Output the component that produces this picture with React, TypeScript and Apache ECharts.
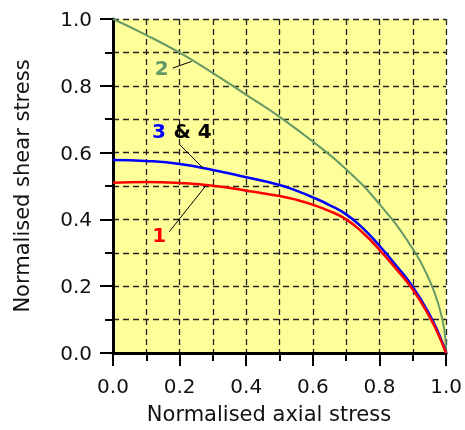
import React, { useEffect, useRef } from "react";
import * as echarts from "echarts";

// Curve 2 (green)
const curve2X = [0, 0.1, 0.2, 0.3, 0.4, 0.5, 0.6, 0.7, 0.8, 0.9, 0.95, 0.98, 0.995, 1];
const curve2Y = [1.0, 0.952, 0.899, 0.838, 0.773, 0.707, 0.633, 0.55, 0.446, 0.312, 0.218, 0.135, 0.068, 0];

// Curves 3 & 4 (blue) and 1 (red)
const curveX = [0, 0.1, 0.2, 0.3, 0.4, 0.5, 0.55, 0.6, 0.65, 0.7, 0.75, 0.8, 0.85, 0.9, 0.95, 0.98, 1];
const curve34Y = [0.578, 0.575, 0.566, 0.548, 0.526, 0.503, 0.486, 0.466, 0.443, 0.415, 0.374, 0.321, 0.262, 0.198, 0.116, 0.053, 0];
const curve1Y = [0.51, 0.512, 0.509, 0.501, 0.486, 0.47, 0.459, 0.444, 0.425, 0.4, 0.36, 0.309, 0.252, 0.19, 0.109, 0.048, 0];

const tickLabels = ["0.0", "0.2", "0.4", "0.6", "0.8", "1.0"];

const xTitle = "Normalised axial stress";
const yTitle = "Normalised shear stress";

const GREEN = "#669966";
const FONT = "DejaVu Sans";

const pairs = (xs: number[], ys: number[]) => xs.map((x, i) => [x, ys[i]]);

const labelFmt = (v: number) => tickLabels[Math.round(v / 0.2)] ?? "";

function axis(extra: any) {
  const grid = { show: true, lineStyle: { color: "#222", width: 1.3, type: [6, 4] } };
  return {
    type: "value",
    min: 0,
    max: 1,
    interval: 0.2,
    axisLine: { show: true, onZero: false, lineStyle: { color: "#000", width: 3 } },
    axisTick: { show: true, length: 13, lineStyle: { color: "#000", width: 2 } },
    minorTick: { show: true, splitNumber: 2, length: 8, lineStyle: { color: "#000", width: 2 } },
    splitLine: grid,
    minorSplitLine: grid,
    axisLabel: { fontSize: 20, fontFamily: FONT, color: "#111", formatter: labelFmt, ...extra },
  };
}

export default function App() {
  const ref = useRef<HTMLDivElement>(null);
  useEffect(() => {
    const chart = echarts.init(ref.current!, null, { renderer: "svg" });
    chart.setOption({
      animation: false,
      grid: {
        left: 113,
        top: 19,
        right: 18,
        bottom: 77,
        show: true,
        backgroundColor: "#ffff99",
        borderWidth: 0,
      },
      xAxis: axis({ margin: 23 }),
      yAxis: axis({ margin: 21 }),
      series: [
        {
          type: "line",
          data: pairs(curve2X, curve2Y),
          showSymbol: false,
          smooth: 0.5,
          lineStyle: { color: GREEN, width: 2 },
        },
        {
          type: "line",
          data: pairs(curveX, curve34Y),
          showSymbol: false,
          smooth: 0.5,
          lineStyle: { color: "#0000ff", width: 2.5 },
        },
        {
          type: "line",
          data: pairs(curveX, curve1Y),
          showSymbol: false,
          smooth: 0.5,
          lineStyle: { color: "#ff0000", width: 2.5 },
        },
      ],
    });

    const p = (x: number, y: number) => chart.convertToPixel({ gridIndex: 0 }, [x, y]) as number[];
    const bold = { fontSize: 20, fontWeight: "bold", fontFamily: FONT, align: "center", verticalAlign: "middle" };
    const label = (text: string, x: number, y: number, fill: string) => {
      const [px, py] = p(x, y);
      return { type: "text", x: px, y: py, z: 10, style: { text, fill, ...bold } };
    };
    const leader = (x1: number, y1: number, x2: number, y2: number) => {
      const [a, b] = p(x1, y1);
      const [c, d] = p(x2, y2);
      return { type: "line", z: 10, shape: { x1: a, y1: b, x2: c, y2: d }, style: { stroke: "#000", lineWidth: 1 } };
    };
    const h = chart.getHeight();
    chart.setOption({
      graphic: [
        label("2", 0.146, 0.853, GREEN),
        leader(0.179, 0.853, 0.236, 0.873),
        label("3", 0.138, 0.666, "#0000ff"),
        label("& 4", 0.239, 0.666, "#000"),
        leader(0.201, 0.623, 0.273, 0.551),
        label("1", 0.139, 0.353, "#ff0000"),
        leader(0.169, 0.363, 0.278, 0.5),
        {
          type: "text",
          x: 269,
          y: h - 16,
          style: { text: xTitle, fill: "#111", fontSize: 21, fontFamily: FONT, align: "center", verticalAlign: "middle" },
        },
        {
          type: "text",
          x: 22,
          y: 186,
          rotation: Math.PI / 2,
          style: { text: yTitle, fill: "#111", fontSize: 21, fontFamily: FONT, align: "center", verticalAlign: "middle" },
        },
      ],
    });
    return () => chart.dispose();
  }, []);
  return <div ref={ref} style={{ position: "fixed", left: 0, top: 0, width: 465, height: 430 }} />;
}
